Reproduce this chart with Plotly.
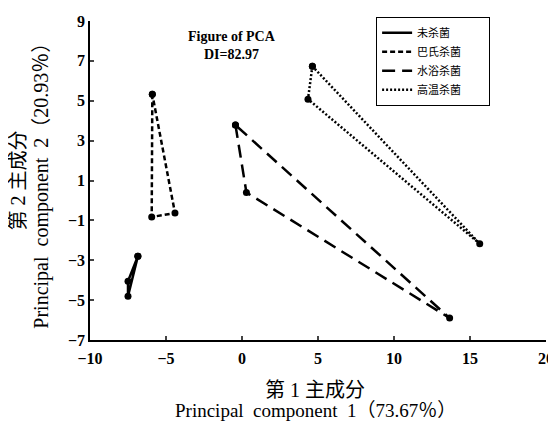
import plotly.graph_objects as go

# Data (PCA scores per treatment)
groups = ["未杀菌", "巴氏杀菌", "水浴杀菌", "高温杀菌"]
x_untreated = [-6.85, -7.5, -7.5]
y_untreated = [-2.8, -4.05, -4.8]
x_pasteur = [-5.9, -5.94, -4.41]
y_pasteur = [5.33, -0.83, -0.63]
x_waterbath = [-0.43, 0.29, 13.66]
y_waterbath = [3.78, 0.4, -5.9]
x_hightemp = [4.63, 4.34, 15.64]
y_hightemp = [6.73, 5.08, -2.17]

x_ticks = [-10, -5, 0, 5, 10, 15, 20]
y_ticks = [-7, -5, -3, -1, 1, 3, 5, 7, 9]

series = [
    (groups[0], x_untreated, y_untreated, "solid"),
    (groups[1], x_pasteur, y_pasteur, "5px,3px"),
    (groups[2], x_waterbath, y_waterbath, "13px,7px"),
    (groups[3], x_hightemp, y_hightemp, "2px,2px"),
]

SERIF = "Liberation Serif, Times New Roman, Noto Sans CJK SC, serif"
PAD = "\u00a0" * 9  # right padding inside the legend box

fig = go.Figure()
for name, xs, ys, dash in series:
    fig.add_trace(go.Scatter(
        x=xs + xs[:1], y=ys + ys[:1], mode="lines+markers",
        line=dict(color="black", width=2.5, dash=dash),
        marker=dict(color="black", size=7),
        showlegend=False, name=name,
    ))
for name, xs, ys, dash in series:
    fig.add_trace(go.Scatter(
        x=[None], y=[None], mode="lines", name=name + PAD,
        line=dict(color="black", width=2.5, dash=dash),
        showlegend=True,
    ))

def ann(text, x, y, size, angle=0):
    return dict(text=text, x=x, y=y, xref="paper", yref="paper",
                xanchor="center", yanchor="middle", showarrow=False,
                textangle=angle, font=dict(size=size, family=SERIF))

# page body has an 8px margin, so the figure is sized to fit the window
fig.update_layout(
    width=548, height=415,
    margin=dict(l=82, r=10, t=12, b=83),
    paper_bgcolor="white", plot_bgcolor="white",
    font=dict(family=SERIF, color="black"),
    legend=dict(
        x=0.627, y=1.009, xanchor="left", yanchor="top",
        bordercolor="black", borderwidth=1.2, bgcolor="white",
        font=dict(size=11, family="Noto Sans CJK SC"),
        tracegroupgap=0, itemwidth=30,
    ),
    annotations=[
        ann("<b>Figure of PCA<br>DI=82.97</b>", 0.311, 0.922, 14),
        ann("第 1 主成分", 0.494, -0.156, 20),
        ann("Principal  component  1（73.67％）", 0.494, -0.222, 19),
        ann("第 2 主成分", -0.160, 0.5, 20, -90),
        ann("Principal  component  2（20.93％）", -0.107, 0.5, 20, -90),
    ],
)
fig.update_xaxes(
    range=[-10, 20], tickvals=x_ticks, ticks="inside", ticklen=4, tickwidth=1.5,
    showline=True, linecolor="black", linewidth=1.5, showgrid=False, zeroline=False,
    automargin=False, ticklabelstandoff=3,
    tickfont=dict(size=16, family=SERIF, weight="bold"),
)
fig.update_yaxes(
    range=[-7, 9], tickvals=y_ticks, ticks="inside", ticklen=4, tickwidth=1.5,
    showline=True, linecolor="black", linewidth=1.5, showgrid=False, zeroline=False,
    automargin=False,
    tickfont=dict(size=16, family=SERIF, weight="bold"),
)

fig.write_html("out.html")
